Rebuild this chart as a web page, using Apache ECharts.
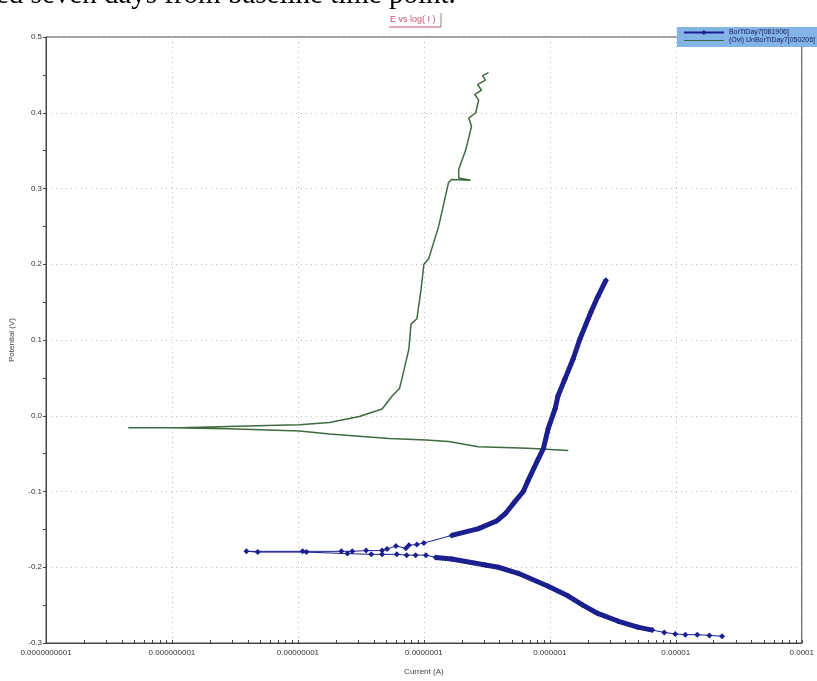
<!DOCTYPE html>
<html>
<head>
<meta charset="utf-8">
<script src="https://cdn.jsdelivr.net/npm/echarts@6/dist/echarts.min.js"></script>
<style>
html,body{margin:0;padding:0;background:#fff;}
#main{width:817px;height:681px;}
</style>
</head>
<body>
<div id="main"></div>
<script>
// tick labels of the log current axis, one per decade
var xLabels = ['0.0000000001', '0.000000001', '0.00000001', '0.0000001', '0.000001', '0.00001', '0.0001'];

// BorTiDay7 - cathodic branch, scanned from high current down to Ecorr
var blueCathI = [2.33e-5, 1.85e-5, 1.48e-5, 1.19e-5, 9.9e-6, 8.1e-6, 6.5e-6, 4.98e-6, 3.46e-6, 2.40e-6, 1.83e-6, 1.40e-6, 9.7e-7, 5.6e-7, 3.9e-7, 3.08e-7, 1.66e-7, 1.24e-7, 1.04e-7, 8.6e-8, 7.3e-8, 6.1e-8];
var blueCathE = [-0.291, -0.290, -0.289, -0.289, -0.288, -0.286, -0.283, -0.279, -0.271, -0.261, -0.250, -0.238, -0.225, -0.208, -0.200, -0.197, -0.189, -0.187, -0.184, -0.184, -0.184, -0.183];
// noisy points around Ecorr
var blueMidI = [4.66e-8, 3.82e-8, 2.47e-8, 1.17e-8, 4.8e-9, 3.9e-9, 1.09e-8, 2.21e-8, 2.70e-8, 3.48e-8, 4.66e-8, 5.1e-8, 6.0e-8, 7.2e-8, 7.6e-8, 8.8e-8, 1.0e-7];
var blueMidE = [-0.183, -0.183, -0.182, -0.180, -0.180, -0.179, -0.179, -0.179, -0.179, -0.178, -0.178, -0.176, -0.172, -0.175, -0.171, -0.170, -0.168];
// anodic branch
var blueAnodI = [1.66e-7, 2.72e-7, 3.77e-7, 4.44e-7, 5.3e-7, 6.15e-7, 6.7e-7, 8.1e-7, 8.9e-7, 9.7e-7, 1.10e-6, 1.16e-6, 1.32e-6, 1.53e-6, 1.73e-6, 2.12e-6, 2.40e-6, 2.79e-6];
var blueAnodE = [-0.158, -0.149, -0.139, -0.129, -0.113, -0.100, -0.086, -0.057, -0.043, -0.017, 0.009, 0.026, 0.049, 0.075, 0.101, 0.137, 0.157, 0.179];

// UnBorTiDay7 (overlay)
var greenCathI = [1.40e-6, 6.7e-7, 2.7e-7, 1.57e-7, 1.04e-7, 5.3e-8, 1.78e-8, 1.03e-8, 2.8e-9, 9.7e-10, 4.5e-10];
var greenCathE = [-0.046, -0.043, -0.041, -0.034, -0.032, -0.030, -0.024, -0.020, -0.017, -0.016, -0.016];
var greenAnodI = [1.16e-9, 5.7e-9, 1.03e-8, 1.78e-8, 3.07e-8, 4.66e-8, 5.6e-8, 6.4e-8, 6.7e-8, 7.6e-8, 7.9e-8, 8.8e-8, 9.5e-8, 1.0e-7, 1.09e-7, 1.31e-7, 1.57e-7, 1.66e-7, 2.35e-7, 1.89e-7, 1.89e-7, 2.15e-7, 2.39e-7, 2.27e-7, 2.58e-7, 2.72e-7, 2.53e-7, 2.87e-7, 2.67e-7, 3.08e-7, 2.92e-7, 3.26e-7];
var greenAnodE = [-0.016, -0.013, -0.012, -0.009, -0.001, 0.009, 0.026, 0.036, 0.049, 0.088, 0.121, 0.128, 0.167, 0.200, 0.207, 0.250, 0.308, 0.312, 0.311, 0.314, 0.325, 0.351, 0.382, 0.393, 0.400, 0.417, 0.424, 0.430, 0.437, 0.443, 0.449, 0.453];

function pairs(xs, ys) {
    return xs.map(function (x, i) { return [x, ys[i]]; });
}

var blueAll = pairs(blueCathI, blueCathE).concat(pairs(blueMidI, blueMidE), pairs(blueAnodI, blueAnodE));
var blueCathDense = pairs(blueCathI, blueCathE).filter(function (p) { return p[0] < 7e-6 && p[0] > 1.1e-7; });
var blueAnodDense = pairs(blueAnodI, blueAnodE);
var greenAll = pairs(greenCathI, greenCathE).concat(pairs(greenAnodI, greenAnodE));

// minor ticks 2..9 inside each decade
var minorTicks = [];
for (var d = -10; d < -4; d++) {
    for (var k = 2; k <= 9; k++) minorTicks.push(k * Math.pow(10, d));
}

var BLUE = '#1c1f8e';
var GREEN = '#3d6b3d';
var FONT = 'Liberation Sans';

var myChart = echarts.init(document.getElementById('main'));
var option = {
    backgroundColor: '#fff',
    animation: false,
    textStyle: { fontFamily: FONT },
    graphic: [
        {
            type: 'text', left: -4, top: -19,
            style: { text: 'ed seven days from baseline time point.', font: '29px "Liberation Serif"', fill: '#000' }
        },
        {
            type: 'text', left: 390, top: 15,
            style: { text: 'E vs log( I )', font: '9px "Liberation Sans"', fill: '#d0506e' }
        },
        {
            type: 'line', shape: { x1: 389, y1: 27, x2: 441, y2: 27 },
            style: { stroke: '#d0506e', lineWidth: 1 }
        },
        {
            type: 'line', shape: { x1: 441, y1: 13, x2: 441, y2: 27 },
            style: { stroke: '#888', lineWidth: 1 }
        }
    ],
    legend: {
        right: -4,
        top: 27,
        orient: 'vertical',
        itemGap: 1,
        itemWidth: 40,
        itemHeight: 6,
        padding: [2, 6, 3, 6],
        backgroundColor: '#84b4e6',
        textStyle: { fontSize: 7, color: '#1a2060', fontFamily: FONT },
        data: [
            'BorTiDay7[081906]',
            { name: '(Ovl) UnBorTiDay7[050206]', itemStyle: { opacity: 0 }, lineStyle: { width: 1 } }
        ]
    },
    grid: {
        left: 45, right: 12, top: 37, bottom: 36,
        show: true, borderColor: '#444', borderWidth: 1
    },
    xAxis: [
        {
            type: 'log',
            logBase: 10,
            min: 1e-10,
            max: 1e-4,
            name: 'Current (A)',
            nameLocation: 'middle',
            nameGap: 25,
            nameTextStyle: { fontSize: 8, color: '#444' },
            axisLine: { onZero: false, lineStyle: { color: '#444' } },
            axisTick: { inside: true, length: 3, lineStyle: { color: '#444' } },
            axisLabel: {
                fontSize: 8, color: '#333', margin: 6,
                formatter: function (v) { return xLabels[Math.round(Math.log10(v)) + 10]; }
            },
            splitLine: { show: true, lineStyle: { color: '#b8bcc8', type: [1, 4] } }
        },
        {
            // carries only the minor ticks of the log scale
            type: 'log',
            logBase: 10,
            min: 1e-10,
            max: 1e-4,
            position: 'bottom',
            axisLine: { show: false, onZero: false },
            axisTick: { show: true, inside: true, length: 3, customValues: minorTicks, lineStyle: { color: '#444' } },
            axisLabel: { show: false },
            splitLine: { show: false }
        }
    ],
    yAxis: {
        type: 'value',
        min: -0.3,
        max: 0.5,
        interval: 0.1,
        name: 'Potential (V)',
        nameLocation: 'middle',
        nameRotate: 90,
        nameGap: 30,
        nameTextStyle: { fontSize: 8, color: '#444' },
        axisLine: { show: true, onZero: false, lineStyle: { color: '#444' } },
        axisTick: { show: true, length: 3, lineStyle: { color: '#444' } },
        minorTick: { show: true, splitNumber: 2, length: 3, lineStyle: { color: '#444' } },
        axisLabel: {
            fontSize: 8, color: '#333', margin: 4,
            formatter: function (v) { return (Math.abs(v) < 1e-9 ? 0 : v).toFixed(1); }
        },
        splitLine: { show: true, lineStyle: { color: '#b8bcc8', type: [1, 4] } }
    },
    series: [
        {
            name: 'BorTiDay7[081906]',
            type: 'line',
            data: blueAll,
            symbol: 'diamond',
            symbolSize: 6,
            showAllSymbol: true,
            itemStyle: { color: BLUE },
            lineStyle: { color: BLUE, width: 1 },
            z: 3
        },
        {
            name: 'BorTiDay7[081906]',
            type: 'line',
            data: blueCathDense,
            showSymbol: false,
            lineStyle: { color: BLUE, width: 5 },
            z: 3
        },
        {
            name: 'BorTiDay7[081906]',
            type: 'line',
            data: blueAnodDense,
            showSymbol: false,
            lineStyle: { color: BLUE, width: 5 },
            z: 3
        },
        {
            name: '(Ovl) UnBorTiDay7[050206]',
            type: 'line',
            data: greenAll,
            symbol: 'none',
            itemStyle: { color: GREEN },
            lineStyle: { color: GREEN, width: 1.5 },
            z: 2
        }
    ]
};
myChart.setOption(option);
window.onresize = myChart.resize;
</script>
</body>
</html>
